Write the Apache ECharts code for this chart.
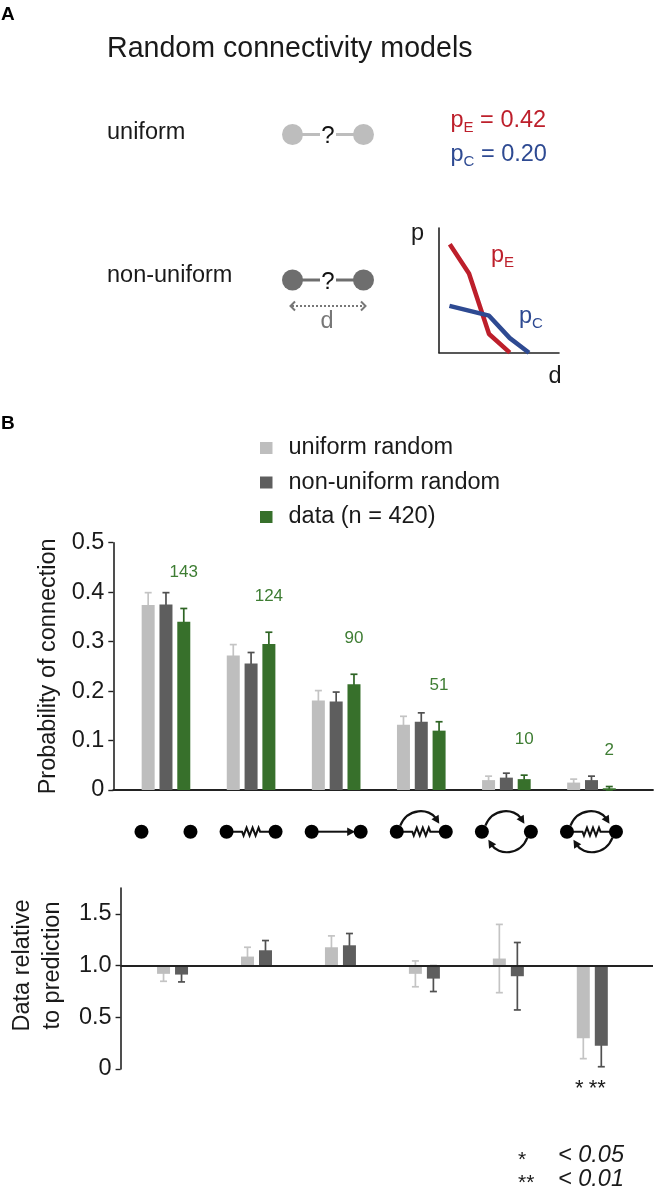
<!DOCTYPE html>
<html><head><meta charset="utf-8">
<script src="https://cdn.jsdelivr.net/npm/echarts@6/dist/echarts.min.js"></script>
<style>html,body{margin:0;padding:0;background:#fff}#c{width:654px;height:1202px}</style>
</head><body><div id="c"></div>
<script>
// ---------- data ----------
const categories = ['unconnected', 'electrical', 'chemical', 'electrical + chemical', 'reciprocal chemical', 'electrical + reciprocal chemical'];
const counts = [143, 124, 90, 51, 10, 2];
const seriesNames = ['uniform random', 'non-uniform random', 'data (n = 420)'];

const uniformProb = [0.374, 0.272, 0.181, 0.132, 0.020, 0.015];
const uniformProbErr = [0.025, 0.022, 0.020, 0.017, 0.008, 0.007];
const nonUniformProb = [0.375, 0.256, 0.179, 0.138, 0.025, 0.020];
const nonUniformProbErr = [0.024, 0.022, 0.019, 0.018, 0.009, 0.008];
const dataProb = [0.340, 0.295, 0.214, 0.120, 0.022, 0.0035];
const dataProbErr = [0.027, 0.024, 0.020, 0.018, 0.008, 0.0035];
const probTickValues = [0, 0.1, 0.2, 0.3, 0.4, 0.5];
const probTickLabels = ['0', '0.1', '0.2', '0.3', '0.4', '0.5'];

const uniformRatio = [0.920, 1.087, 1.177, 0.920, 1.068, 0.297];
const uniformRatioErr = [0.072, 0.090, 0.110, 0.125, 0.330, 0.197];
const nonUniformRatio = [0.913, 1.148, 1.196, 0.874, 0.897, 0.226];
const nonUniformRatioErr = [0.071, 0.094, 0.114, 0.125, 0.326, 0.204];
const ratioTickValues = [0, 0.5, 1.0, 1.5];
const ratioTickLabels = ['0', '0.5', '1.0', '1.5'];
const sigUniform = ['', '', '', '', '', '*'];
const sigNonUniform = ['', '', '', '', '', '**'];
const sigLegendMarks = ['*', '**'];
const sigLegendText = ['< 0.05', '< 0.01'];

// panel A sketch: connection probability vs distance (arbitrary units)
const pEProfile = [[0.09, 0.87], [0.25, 0.635], [0.417, 0.15], [0.59, 0]];
const pCProfile = [[0.087, 0.376], [0.417, 0.297], [0.59, 0.117], [0.75, 0]];
const uniformPE = '0.42';
const uniformPC = '0.20';

// ---------- style ----------
const FONT = 'Liberation Sans, Arial, Helvetica, sans-serif';
const INK = '#1a1a1a';
const C_LIGHT = '#bebebe', C_DARK = '#5e5e5e', C_GREEN = '#37702b';
const E_LIGHT = '#c4c4c4', E_DARK = '#505050', E_GREEN = '#2e6424';
const T_GREEN = '#3e7d33';
const C_RED = '#bd1f2b', C_BLUE = '#2e4a92';
const X_MIN = -0.619, X_MAX = 5.723;
const BAR_W = 13, OFF3 = 17.8, OFF2 = 9;

const chart = echarts.init(document.getElementById('c'));

function errSeries(xi, vals, errs, offset, color, extra) {
  return {
    type: 'custom', xAxisIndex: xi, yAxisIndex: xi, z: 1, silent: true,
    data: vals.map((v, i) => [i, v, errs[i]]),
    encode: { x: 0, y: 1 },
    renderItem: (params, api) => {
      const x = api.value(0), v = api.value(1), e = api.value(2);
      const pt = api.coord([x, v + e]), pb = api.coord([x, v - e]);
      const cx = pt[0] + offset;
      const st = { stroke: color, lineWidth: 1.7 };
      const ch = [
        { type: 'line', shape: { x1: cx, y1: pt[1], x2: cx, y2: pb[1] }, style: st },
        { type: 'line', shape: { x1: cx - 3.5, y1: pt[1], x2: cx + 3.5, y2: pt[1] }, style: st },
        { type: 'line', shape: { x1: cx - 3.5, y1: pb[1], x2: cx + 3.5, y2: pb[1] }, style: st }
      ];
      if (extra) extra(ch, params.dataIndex, cx, pt, api);
      return { type: 'group', children: ch };
    }
  };
}

function ratioBarSeries(vals, offset, color) {
  return {
    type: 'custom', xAxisIndex: 1, yAxisIndex: 1, z: 2, silent: true,
    data: vals.map((v, i) => [i, v]),
    encode: { x: 0, y: 1 },
    renderItem: (params, api) => {
      const x = api.value(0), v = api.value(1);
      const p1 = api.coord([x, 1]), p2 = api.coord([x, v]);
      const cx = p1[0] + offset;
      return { type: 'rect', shape: { x: cx - BAR_W / 2, y: Math.min(p1[1], p2[1]), width: BAR_W, height: Math.abs(p2[1] - p1[1]) }, style: { fill: color } };
    }
  };
}

function tickFmt(values, labels) {
  return v => { const k = values.findIndex(t => Math.abs(t - v) < 1e-9); return k >= 0 ? labels[k] : ''; };
}

const countLabel = (ch, i, cx, pt) => {
  ch.push({ type: 'text', x: cx, y: pt[1] - 36, style: { text: String(counts[i]), fontSize: 17, fontFamily: FONT, fill: T_GREEN, align: 'center', verticalAlign: 'middle' } });
};
const sigLabel = arr => (ch, i, cx, pt, api) => {
  if (!arr[i]) return;
  const p0 = api.coord([i, 0]);
  ch.push({ type: 'text', x: cx - 4, y: p0[1] + 20, style: { text: arr[i], fontSize: 22, fontFamily: FONT, fill: INK, align: 'center', verticalAlign: 'middle' } });
};

const option = {
  animation: false,
  textStyle: { fontFamily: FONT },
  grid: [
    { left: 113.3, width: 539.7, top: 542.7, height: 247.3 },
    { left: 113.3, width: 539.7, top: 888, height: 181 },
    { left: 439, width: 120, top: 228, height: 124.7 }
  ],
  legend: {
    orient: 'vertical', left: 260, top: 436, padding: 0, itemWidth: 12.5, itemHeight: 12, itemGap: 10.5,
    icon: 'rect', data: seriesNames, selectedMode: false,
    textStyle: { fontSize: 23.5, color: INK, lineHeight: 24, padding: [0, 0, 0, 11], fontFamily: FONT }
  },
  xAxis: [
    { gridIndex: 0, type: 'value', min: X_MIN, max: X_MAX, axisLine: { onZero: false, lineStyle: { color: '#222', width: 1.8 } }, axisTick: { show: false }, axisLabel: { show: false }, splitLine: { show: false } },
    { gridIndex: 1, type: 'value', min: X_MIN, max: X_MAX, show: false, splitLine: { show: false } },
    { gridIndex: 2, type: 'value', min: 0, max: 1, axisLine: { onZero: false, lineStyle: { color: '#222', width: 1.6 } }, axisTick: { show: false }, axisLabel: { show: false }, splitLine: { show: false } }
  ],
  yAxis: [
    { gridIndex: 0, type: 'value', min: 0, max: 0.5, interval: 0.1,
      name: 'Probability of connection', nameLocation: 'middle', nameGap: 52,
      nameTextStyle: { fontSize: 23.5, color: INK, fontFamily: FONT },
      axisLine: { show: true, onZero: false, lineStyle: { color: '#222', width: 1.6 } },
      axisTick: { show: true, length: 5, lineStyle: { color: '#222', width: 1.4 } },
      axisLabel: { fontSize: 23.5, color: INK, margin: 9, formatter: tickFmt(probTickValues, probTickLabels) },
      splitLine: { show: false } },
    { gridIndex: 1, type: 'value', min: 0, max: 1.75,
      name: 'Data relative\nto prediction', nameLocation: 'middle', nameGap: 50,
      nameTextStyle: { fontSize: 23.5, color: INK, lineHeight: 30, fontFamily: FONT, padding: [0, 0, 0, 26] },
      axisLine: { show: true, onZero: false, lineStyle: { color: '#222', width: 1.6 } },
      axisTick: { show: true, length: 5, customValues: ratioTickValues, lineStyle: { color: '#222', width: 1.4 } },
      axisLabel: { fontSize: 23.5, color: INK, margin: 9, customValues: ratioTickValues, formatter: tickFmt(ratioTickValues, ratioTickLabels) },
      splitLine: { show: false } },
    { gridIndex: 2, type: 'value', min: 0, max: 1, axisLine: { show: true, onZero: false, lineStyle: { color: '#222', width: 1.6 } }, axisTick: { show: false }, axisLabel: { show: false }, splitLine: { show: false } }
  ],
  series: [
    { name: seriesNames[0], type: 'bar', xAxisIndex: 0, yAxisIndex: 0, z: 2, barWidth: BAR_W, barGap: '37%', itemStyle: { color: C_LIGHT }, data: uniformProb.map((v, i) => [i, v]) },
    { name: seriesNames[1], type: 'bar', xAxisIndex: 0, yAxisIndex: 0, z: 2, barWidth: BAR_W, barGap: '37%', itemStyle: { color: C_DARK }, data: nonUniformProb.map((v, i) => [i, v]) },
    { name: seriesNames[2], type: 'bar', xAxisIndex: 0, yAxisIndex: 0, z: 2, barWidth: BAR_W, barGap: '37%', itemStyle: { color: C_GREEN }, data: dataProb.map((v, i) => [i, v]) },
    errSeries(0, uniformProb, uniformProbErr, -OFF3, E_LIGHT),
    errSeries(0, nonUniformProb, nonUniformProbErr, 0, E_DARK),
    errSeries(0, dataProb, dataProbErr, OFF3, E_GREEN, countLabel),
    Object.assign(ratioBarSeries(uniformRatio, -OFF2, C_LIGHT), {
      markLine: { silent: true, symbol: 'none', label: { show: false }, lineStyle: { color: '#222', width: 1.8, type: 'solid' }, data: [{ yAxis: 1 }] }
    }),
    ratioBarSeries(nonUniformRatio, OFF2, C_DARK),
    errSeries(1, uniformRatio, uniformRatioErr, -OFF2, E_LIGHT, sigLabel(sigUniform)),
    errSeries(1, nonUniformRatio, nonUniformRatioErr, OFF2, E_DARK, sigLabel(sigNonUniform)),
    { type: 'line', xAxisIndex: 2, yAxisIndex: 2, data: pEProfile, showSymbol: false, symbol: 'none', lineStyle: { color: C_RED, width: 4.5 }, silent: true },
    { type: 'line', xAxisIndex: 2, yAxisIndex: 2, data: pCProfile, showSymbol: false, symbol: 'none', lineStyle: { color: C_BLUE, width: 4.5 }, silent: true }
  ]
};
chart.setOption(option);

// ---------- schematic graphics ----------
const G = [];
function txt(x, y, text, size, fill, extra) {
  G.push({ type: 'text', x, y, z: 10, style: Object.assign({ text, fontSize: size, fontFamily: FONT, fill, align: 'left', verticalAlign: 'middle' }, extra || {}) });
}
function richP(x, y, sub, rest, color, size) {
  G.push({ type: 'text', x, y, z: 10, style: {
    text: '{m|p}{s|' + sub + '}' + (rest ? '{m|' + rest + '}' : ''), fill: color, align: 'left', verticalAlign: 'middle',
    rich: { m: { fontSize: size, fontFamily: FONT, fill: color, lineHeight: 30 }, s: { fontSize: size * 0.64, fontFamily: FONT, fill: color, lineHeight: 30, padding: [14, 0, 0, 0] } }
  } });
}
txt(1, 15, 'A', 19, '#000', { fontWeight: 'bold' });
txt(1, 424, 'B', 19, '#000', { fontWeight: 'bold' });
txt(107, 49, 'Random connectivity models', 28.6, INK);
txt(107, 133, 'uniform', 23.5, INK);
txt(107, 276, 'non-uniform', 23.5, INK);

function dumbbell(y, color) {
  G.push({ type: 'line', z: 9, shape: { x1: 300, y1: y, x2: 320, y2: y }, style: { stroke: color, lineWidth: 3 } });
  G.push({ type: 'line', z: 9, shape: { x1: 336, y1: y, x2: 356, y2: y }, style: { stroke: color, lineWidth: 3 } });
  G.push({ type: 'circle', z: 10, shape: { cx: 292.5, cy: y, r: 10.5 }, style: { fill: color } });
  G.push({ type: 'circle', z: 10, shape: { cx: 363.5, cy: y, r: 10.5 }, style: { fill: color } });
  txt(328, y + 2, '?', 24, '#111', { align: 'center' });
}
dumbbell(134.5, '#bdbdbd');
dumbbell(280, '#6e6e6e');
// distance arrow
G.push({ type: 'line', z: 9, shape: { x1: 292, y1: 306, x2: 364, y2: 306 }, style: { stroke: '#777', lineWidth: 2, lineDash: [2, 2] } });
G.push({ type: 'polyline', z: 9, shape: { points: [[295, 301.5], [290.5, 306], [295, 310.5]] }, style: { stroke: '#777', lineWidth: 2, fill: null } });
G.push({ type: 'polyline', z: 9, shape: { points: [[361, 301.5], [365.5, 306], [361, 310.5]] }, style: { stroke: '#777', lineWidth: 2, fill: null } });
txt(327, 322, 'd', 23.5, '#777', { align: 'center' });

richP(450.5, 120.5, 'E', ' = ' + uniformPE, C_RED, 23.5);
richP(450.5, 154.5, 'C', ' = ' + uniformPC, C_BLUE, 23.5);
// sketch axis names and curve labels
txt(417.5, 234, 'p', 23.5, INK, { align: 'center' });
txt(555, 377, 'd', 23.5, INK, { align: 'center' });
richP(491, 256, 'E', '', C_RED, 23.5);
richP(519, 317, 'C', '', C_BLUE, 23.5);

// connection motif icons under the categories
const base = chart.convertToPixel({ gridIndex: 0 }, [0, 0])[1];
const iy = base + 41.7;
function arrowHead(tx, ty, dx, dy) {
  const L = Math.hypot(dx, dy); dx /= L; dy /= L;
  const len = 8, half = 4.2;
  const bx = tx - dx * len, by = ty - dy * len;
  G.push({ type: 'polygon', z: 11, shape: { points: [[tx, ty], [bx - dy * half, by + dx * half], [bx + dy * half, by - dx * half]] }, style: { fill: '#111' } });
}
function spring(cx, cy) {
  const pts = [[cx - 19, cy], [cx - 9, cy], [cx - 7.5, cy + 4], [cx - 4.5, cy - 4], [cx - 1.5, cy + 4], [cx + 1.5, cy - 4], [cx + 4.5, cy + 4], [cx + 7.5, cy - 4], [cx + 9, cy], [cx + 19, cy]];
  G.push({ type: 'polyline', z: 10, shape: { points: pts }, style: { stroke: '#111', lineWidth: 2, fill: null } });
}
function upperArc(cx, cy) {
  const s = [cx - 21, cy - 6], c1 = [cx - 14, cy - 24], c2 = [cx + 8, cy - 24], e = [cx + 18, cy - 8];
  G.push({ type: 'bezierCurve', z: 10, shape: { x1: s[0], y1: s[1], cpx1: c1[0], cpy1: c1[1], cpx2: c2[0], cpy2: c2[1], x2: e[0] - 3, y2: e[1] - 5 }, style: { stroke: '#111', lineWidth: 2.2, fill: null } });
  arrowHead(e[0], e[1], e[0] - c2[0], e[1] - c2[1]);
}
function lowerArc(cx, cy) {
  const s = [cx + 21, cy + 6], c1 = [cx + 14, cy + 24], c2 = [cx - 8, cy + 24], e = [cx - 18, cy + 8];
  G.push({ type: 'bezierCurve', z: 10, shape: { x1: s[0], y1: s[1], cpx1: c1[0], cpy1: c1[1], cpx2: c2[0], cpy2: c2[1], x2: e[0] + 3, y2: e[1] + 5 }, style: { stroke: '#111', lineWidth: 2.2, fill: null } });
  arrowHead(e[0], e[1], e[0] - c2[0], e[1] - c2[1]);
}
const motifs = [[], ['spring'], ['arrow'], ['spring', 'up'], ['up', 'down'], ['spring', 'up', 'down']];
categories.forEach((c, i) => {
  const cx = chart.convertToPixel({ gridIndex: 0 }, [i, 0])[0];
  motifs[i].forEach(m => {
    if (m === 'spring') spring(cx, iy);
    if (m === 'arrow') {
      G.push({ type: 'line', z: 10, shape: { x1: cx - 19, y1: iy, x2: cx + 12, y2: iy }, style: { stroke: '#111', lineWidth: 2 } });
      arrowHead(cx + 19, iy, 1, 0);
    }
    if (m === 'up') upperArc(cx, iy);
    if (m === 'down') lowerArc(cx, iy);
  });
  G.push({ type: 'circle', z: 12, shape: { cx: cx - 24.5, cy: iy, r: 7 }, style: { fill: '#000' } });
  G.push({ type: 'circle', z: 12, shape: { cx: cx + 24.5, cy: iy, r: 7 }, style: { fill: '#000' } });
});

// significance legend
sigLegendMarks.forEach((m, k) => {
  txt(518, 1160 + k * 23, m, 21, INK);
  txt(558, 1155 + k * 24, sigLegendText[k], 23.5, INK, { fontStyle: 'italic' });
});

chart.setOption({ graphic: { elements: G } });
</script>
</body></html>
